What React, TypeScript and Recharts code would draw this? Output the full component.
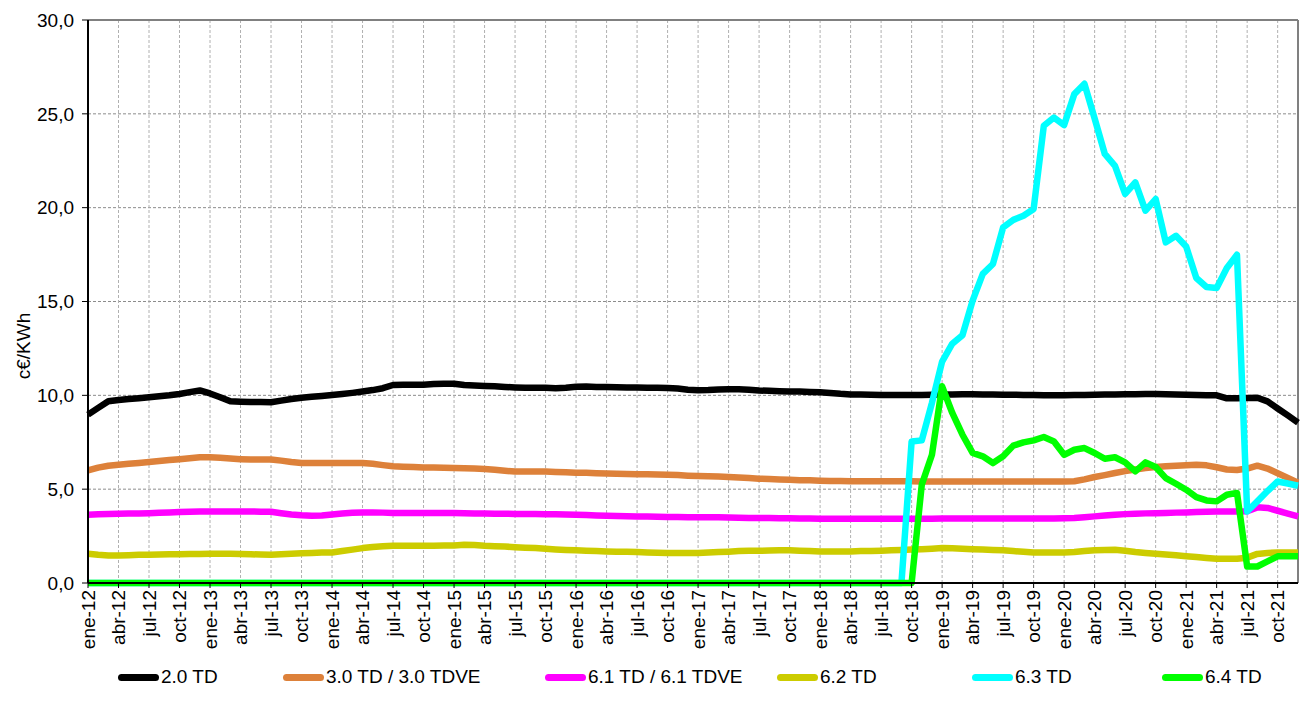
import { LineChart, Line, XAxis, YAxis, CartesianGrid, Legend, ReferenceLine } from "recharts";

const monthNames = ["ene", "feb", "mar", "abr", "may", "jun", "jul", "ago", "sep", "oct", "nov", "dic"];
const years = ["12", "13", "14", "15", "16", "17", "18", "19", "20", "21"];
const months = years.flatMap((y) => monthNames.map((m) => `${m}-${y}`));
const quarterTicks = months.filter((_, i) => i % 3 === 0);
const yTicks = [0, 5, 10, 15, 20, 25, 30];

// 2.0 TD
const td20 = [
  8.97, 9.33, 9.68, 9.75, 9.8, 9.85, 9.9, 9.95, 10.0, 10.07, 10.17, 10.26,
  10.1, 9.9, 9.68, 9.66, 9.65, 9.64, 9.63, 9.72, 9.8, 9.87, 9.92, 9.97,
  10.02, 10.07, 10.13, 10.2, 10.28, 10.38, 10.55, 10.56, 10.56, 10.57, 10.6, 10.62,
  10.62, 10.55, 10.52, 10.5, 10.48, 10.45, 10.42, 10.4, 10.4, 10.4, 10.38, 10.4,
  10.46, 10.47, 10.45, 10.44, 10.43, 10.42, 10.42, 10.41, 10.4, 10.39, 10.36, 10.3,
  10.27, 10.28, 10.31, 10.33, 10.32, 10.3, 10.26, 10.24, 10.22, 10.21, 10.2, 10.18,
  10.16, 10.13, 10.08, 10.05, 10.04, 10.03, 10.02, 10.02, 10.02, 10.02, 10.02, 10.03,
  10.04, 10.05, 10.06, 10.06, 10.05, 10.04, 10.03, 10.03, 10.02, 10.02, 10.0, 10.0,
  10.0, 10.02, 10.02, 10.03, 10.04, 10.05, 10.06, 10.06, 10.07, 10.07, 10.06, 10.05,
  10.03, 10.02, 10.01, 10.0, 9.84, 9.84, 9.86, 9.87, 9.68, 9.3, 8.93, 8.55,
];

// 3.0 TD / 3.0 TDVE
const td30 = [
  6.0, 6.15, 6.25, 6.3, 6.35, 6.4, 6.45, 6.5, 6.55, 6.6, 6.65, 6.7,
  6.7, 6.67, 6.63, 6.6, 6.58, 6.58, 6.58, 6.52, 6.45, 6.4, 6.4, 6.4,
  6.4, 6.4, 6.4, 6.4, 6.35, 6.28, 6.22, 6.2, 6.18, 6.16, 6.15, 6.14,
  6.13, 6.12, 6.1, 6.07, 6.03, 5.98, 5.94, 5.94, 5.94, 5.94, 5.92, 5.9,
  5.88, 5.87, 5.85, 5.83, 5.82, 5.81, 5.8, 5.79, 5.78, 5.77, 5.75, 5.72,
  5.7, 5.69, 5.67, 5.65, 5.62, 5.59, 5.56, 5.54, 5.52, 5.5, 5.48, 5.47,
  5.45, 5.44, 5.43, 5.42, 5.42, 5.42, 5.42, 5.42, 5.42, 5.42, 5.41, 5.41,
  5.41, 5.41, 5.41, 5.41, 5.41, 5.41, 5.41, 5.41, 5.41, 5.41, 5.41, 5.41,
  5.41, 5.42, 5.52, 5.65, 5.75, 5.86, 5.96, 6.05, 6.12, 6.18, 6.22, 6.25,
  6.27, 6.3, 6.27, 6.17, 6.05, 6.02, 6.1, 6.25, 6.1, 5.85, 5.6, 5.35,
];

// 6.1 TD / 6.1 TDVE
const td61 = [
  3.64, 3.66, 3.68, 3.69, 3.7, 3.71, 3.72, 3.74, 3.76, 3.78, 3.8, 3.81,
  3.81, 3.81, 3.81, 3.81, 3.81, 3.8, 3.8, 3.72, 3.65, 3.61, 3.59, 3.6,
  3.65, 3.7, 3.74, 3.76, 3.76, 3.75, 3.73, 3.73, 3.73, 3.73, 3.73, 3.73,
  3.73, 3.72, 3.71, 3.7, 3.69, 3.69, 3.68, 3.68, 3.68, 3.67, 3.66, 3.65,
  3.64, 3.62, 3.6, 3.58, 3.57, 3.56, 3.55, 3.54, 3.53, 3.52, 3.52, 3.51,
  3.5, 3.5, 3.5, 3.49, 3.48, 3.47, 3.46, 3.46, 3.45, 3.45, 3.44, 3.44,
  3.43, 3.43, 3.43, 3.43, 3.43, 3.43, 3.43, 3.43, 3.43, 3.43, 3.43, 3.43,
  3.44, 3.44, 3.44, 3.44, 3.44, 3.44, 3.44, 3.44, 3.44, 3.44, 3.44, 3.44,
  3.45, 3.46, 3.5, 3.55, 3.6, 3.64, 3.67, 3.69, 3.71, 3.72, 3.73, 3.75,
  3.76, 3.78, 3.8, 3.81, 3.81, 3.81, 3.82, 4.03, 4.0, 3.85, 3.7, 3.55,
];

// 6.2 TD
const td62 = [
  1.56, 1.5, 1.47, 1.47, 1.48, 1.5, 1.51, 1.52, 1.53, 1.53, 1.54, 1.55,
  1.56, 1.56, 1.56, 1.55, 1.53, 1.52, 1.51, 1.53, 1.56, 1.58, 1.6, 1.62,
  1.63, 1.7, 1.78, 1.86, 1.92, 1.96, 1.99, 1.99, 1.99, 1.99, 1.99, 2.0,
  2.0, 2.04, 2.02, 1.98, 1.96, 1.94, 1.91, 1.88, 1.86, 1.82, 1.79, 1.76,
  1.74, 1.72, 1.7, 1.68, 1.67, 1.66, 1.65, 1.63, 1.61, 1.6, 1.6, 1.6,
  1.6, 1.62, 1.65, 1.67, 1.7, 1.72, 1.72, 1.73, 1.74, 1.74, 1.72, 1.7,
  1.68, 1.68, 1.68, 1.68, 1.7, 1.71, 1.72, 1.74, 1.76, 1.78, 1.8, 1.83,
  1.86, 1.85, 1.83, 1.8, 1.78, 1.76, 1.74, 1.7, 1.66, 1.63, 1.63, 1.63,
  1.63, 1.65, 1.7, 1.74, 1.76, 1.77, 1.72, 1.65, 1.6, 1.56, 1.52, 1.48,
  1.43, 1.38, 1.33, 1.29, 1.29, 1.29, 1.35, 1.55, 1.6, 1.63, 1.63, 1.63,
];

// 6.3 TD
const td63 = [
  0, 0, 0, 0, 0, 0, 0, 0, 0, 0, 0, 0,
  0, 0, 0, 0, 0, 0, 0, 0, 0, 0, 0, 0,
  0, 0, 0, 0, 0, 0, 0, 0, 0, 0, 0, 0,
  0, 0, 0, 0, 0, 0, 0, 0, 0, 0, 0, 0,
  0, 0, 0, 0, 0, 0, 0, 0, 0, 0, 0, 0,
  0, 0, 0, 0, 0, 0, 0, 0, 0, 0, 0, 0,
  0, 0, 0, 0, 0, 0, 0, 0, 0, 7.54, 7.6, 9.6,
  11.8, 12.75, 13.2, 15.05, 16.47, 17.0, 18.95, 19.35, 19.57, 19.93, 24.36, 24.8,
  24.4, 26.05, 26.6, 24.75, 22.86, 22.23, 20.73, 21.35, 19.84, 20.46, 18.15, 18.5,
  17.93, 16.25, 15.77, 15.72, 16.78, 17.49, 3.81, 4.35, 4.9, 5.41, 5.3, 5.18,
];

// 6.4 TD
const td64 = [
  0, 0, 0, 0, 0, 0, 0, 0, 0, 0, 0, 0,
  0, 0, 0, 0, 0, 0, 0, 0, 0, 0, 0, 0,
  0, 0, 0, 0, 0, 0, 0, 0, 0, 0, 0, 0,
  0, 0, 0, 0, 0, 0, 0, 0, 0, 0, 0, 0,
  0, 0, 0, 0, 0, 0, 0, 0, 0, 0, 0, 0,
  0, 0, 0, 0, 0, 0, 0, 0, 0, 0, 0, 0,
  0, 0, 0, 0, 0, 0, 0, 0, 0, 0, 5.24, 6.83,
  10.48, 9.06, 7.9, 6.93, 6.75, 6.39, 6.75, 7.32, 7.49, 7.6, 7.78, 7.54,
  6.83, 7.1, 7.19, 6.93, 6.62, 6.7, 6.43, 5.95, 6.43, 6.18, 5.59, 5.29,
  4.97, 4.58, 4.4, 4.35, 4.7, 4.8, 0.88, 0.88, 1.15, 1.42, 1.42, 1.42,
];

const series = [
  { key: "td20", name: "2.0 TD", color: "#000000", values: td20 },
  { key: "td30", name: "3.0 TD / 3.0 TDVE", color: "#DD813A", values: td30 },
  { key: "td61", name: "6.1 TD / 6.1 TDVE", color: "#FF00FF", values: td61 },
  { key: "td62", name: "6.2 TD", color: "#CCCC00", values: td62 },
  { key: "td63", name: "6.3 TD", color: "#00FFFF", values: td63 },
  { key: "td64", name: "6.4 TD", color: "#00FF00", values: td64 },
];

const data = months.map((month, i) => {
  const row: Record<string, string | number> = { month };
  series.forEach((s) => {
    row[s.key] = s.values[i];
  });
  return row;
});

// left edge of each legend entry
const legendLeft = [118, 283, 545, 777, 972, 1162];

const FONT = "'Liberation Sans', Arial, sans-serif";

function MonthTick({ x, y, payload }: any) {
  return (
    <text
      x={x}
      y={y}
      dy="0.35em"
      transform={`rotate(-90 ${x} ${y})`}
      textAnchor="end"
      fontSize={19}
      fill="#000"
    >
      {payload.value}
    </text>
  );
}

function LegendContent() {
  return (
    <div style={{ position: "relative", width: 1304, height: 22 }}>
      {series.map((s, i) => (
        <div
          key={s.key}
          style={{
            position: "absolute",
            left: legendLeft[i],
            top: 0,
            height: 22,
            display: "flex",
            alignItems: "center",
            whiteSpace: "nowrap",
          }}
        >
          <span style={{ display: "inline-block", width: 41, height: 7, borderRadius: 4, background: s.color }} />
          <span style={{ marginLeft: 2, fontSize: 19, color: "#000" }}>{s.name}</span>
        </div>
      ))}
    </div>
  );
}

export default function App() {
  return (
    <div style={{ position: "absolute", left: 0, top: 0, width: 1304, height: 712, background: "#fff", fontFamily: FONT }}>
      <LineChart width={1304} height={712} data={data} margin={{ top: 20, right: 6, bottom: 24, left: 0 }}>
        <CartesianGrid horizontal={true} vertical={false} stroke="#8c8c8c" strokeDasharray="3 2" />
        <CartesianGrid horizontal={false} vertical={true} stroke="#b0b0b0" strokeDasharray="3 2" />
        <XAxis
          dataKey="month"
          ticks={quarterTicks}
          interval={0}
          tick={<MonthTick />}
          tickSize={5}
          tickMargin={2}
          height={83}
          axisLine={{ stroke: "#000", strokeWidth: 2 }}
          tickLine={{ stroke: "#000" }}
        />
        <YAxis
          domain={[0, 30]}
          ticks={yTicks}
          interval={0}
          width={88}
          tickSize={6}
          tickMargin={8}
          tick={{ fill: "#000", fontSize: 19 }}
          tickFormatter={(v: number) => v.toFixed(1).replace(".", ",")}
          axisLine={{ stroke: "#000", strokeWidth: 2 }}
          tickLine={{ stroke: "#000" }}
          label={() => (
            <text x={23} y={346} transform="rotate(-90 23 346)" textAnchor="middle" dominantBaseline="central" fontSize={19} fill="#000">
              c€/KWh
            </text>
          )}
        />
        <ReferenceLine y={30} stroke="#808080" strokeWidth={2} />
        <ReferenceLine x="dic-21" stroke="#808080" strokeWidth={2} />
        <Legend verticalAlign="bottom" height={22} content={<LegendContent />} wrapperStyle={{ left: 0, bottom: 24, width: 1304 }} />
        {series.map((s) => (
          <Line
            key={s.key}
            type="linear"
            dataKey={s.key}
            name={s.name}
            stroke={s.color}
            strokeWidth={6.5}
            strokeLinejoin="round"
            dot={false}
            activeDot={false}
            isAnimationActive={false}
          />
        ))}
      </LineChart>
    </div>
  );
}
